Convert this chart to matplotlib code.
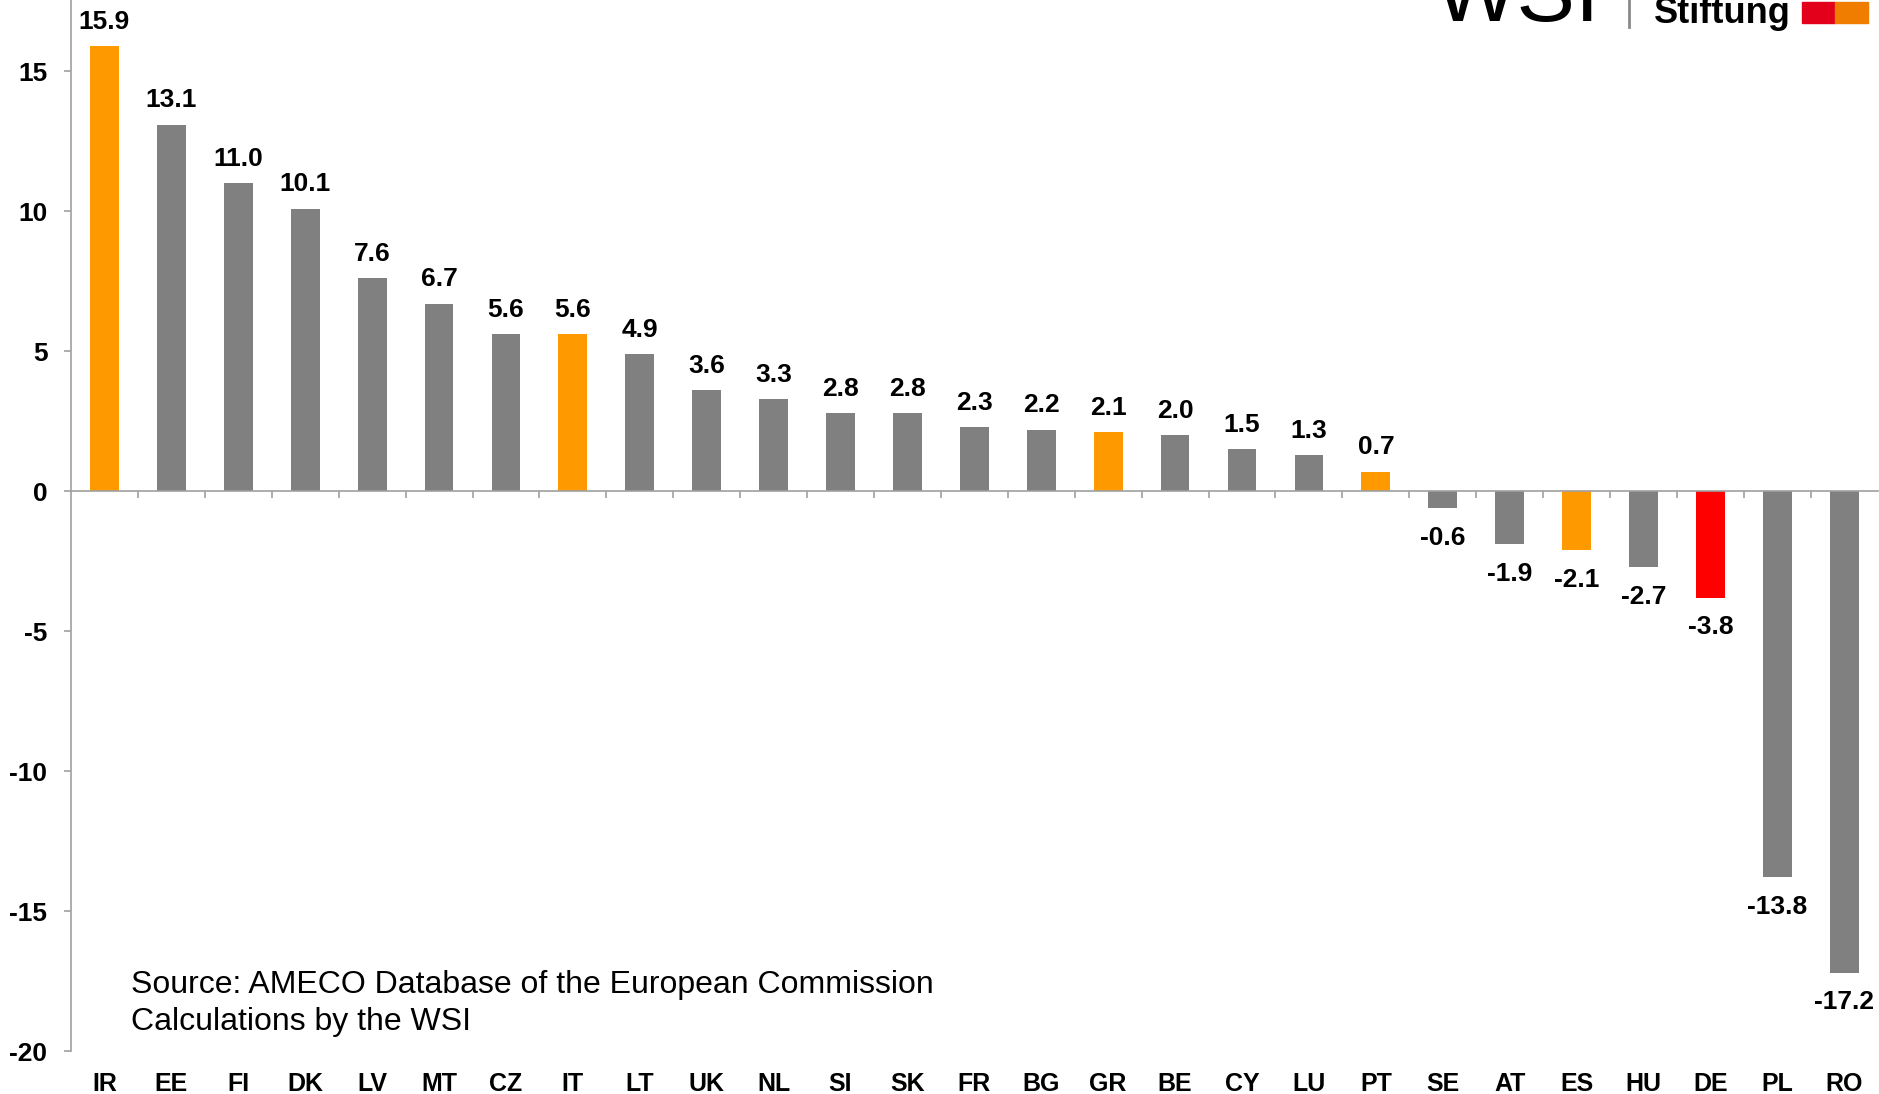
import matplotlib
matplotlib.use("Agg")
import matplotlib.pyplot as plt
from matplotlib.patches import Rectangle
from matplotlib.transforms import blended_transform_factory

plt.rcParams['font.family'] = ['Liberation Sans', 'DejaVu Sans']

# --- Data ---
countries = ["IR", "EE", "FI", "DK", "LV", "MT", "CZ", "IT", "LT", "UK", "NL", "SI", "SK",
             "FR", "BG", "GR", "BE", "CY", "LU", "PT", "SE", "AT", "ES", "HU", "DE", "PL", "RO"]
values = [15.9, 13.1, 11.0, 10.1, 7.6, 6.7, 5.6, 5.6, 4.9, 3.6, 3.3, 2.8, 2.8,
          2.3, 2.2, 2.1, 2.0, 1.5, 1.3, 0.7, -0.6, -1.9, -2.1, -2.7, -3.8, -13.8, -17.2]
crisis = ["IR", "IT", "GR", "PT", "ES"]
highlight = ["DE"]
yticks = [-20, -15, -10, -5, 0, 5, 10, 15]

GREY = "#808080"
ORANGE = "#FF9900"
RED = "#FF0000"
AXIS = "#A0A0A0"

colors = [RED if c in highlight else ORANGE if c in crisis else GREY for c in countries]

fig = plt.figure(figsize=(18.79, 10.94), dpi=100)
ax = fig.add_axes([0.0378, 0.0393, 0.9615, 0.9607])

x = list(range(len(countries)))
ax.bar(x, values, width=0.43, color=colors, zorder=2)

ax.set_xlim(-0.5, len(countries) - 0.5)
ax.set_ylim(-20, 17.55)

# spines
for s in ["top", "right"]:
    ax.spines[s].set_visible(False)
ax.spines["left"].set_color(AXIS)
ax.spines["left"].set_linewidth(1.2)
ax.spines["bottom"].set_position(("data", 0))
ax.spines["bottom"].set_color(AXIS)
ax.spines["bottom"].set_linewidth(1.2)

ax.set_yticks(yticks)
ax.set_yticklabels([str(v) for v in yticks], fontsize=19, fontweight="bold")
ax.tick_params(axis="y", direction="out", length=5, color=AXIS, width=1.2, pad=12)

# category boundary ticks on the zero line, no labels there
ax.set_xticks([i + 0.5 for i in x[:-1]])
ax.set_xticklabels([])
ax.tick_params(axis="x", direction="out", length=5, color=AXIS, width=1.2)

# category labels below the plot
trans = blended_transform_factory(ax.transData, ax.transAxes)
for i, c in zip(x, countries):
    ax.text(i, -0.031, c, transform=trans, ha="center", va="center",
            fontsize=18, fontweight="bold")

# value labels
for i, v in zip(x, values):
    off = 17.5 if v >= 0 else -21.5
    ax.annotate(f"{v:.1f}", (i, v), xytext=(0, off), textcoords="offset points",
                ha="center", va="center", fontsize=19, fontweight="bold")

# source note
ax.text(0.0332, 0.045, "Source: AMECO Database of the European Commission\nCalculations by the WSI",
        transform=ax.transAxes, ha="left", va="center", fontsize=23, linespacing=1.28)

# logo (cut off at the top)
fig.text(1435 / 1879, 1 - 21.5 / 1094, "WSI", fontsize=63, ha="left", va="baseline")
fig.add_artist(plt.Line2D([1629 / 1879, 1629 / 1879], [1 - 27 / 1094, 1.0],
                          transform=fig.transFigure, color="#8A8A8A", lw=2))
fig.text(1654 / 1879, 1 - 23 / 1094, "Stiftung", fontsize=26, fontweight="bold",
         ha="left", va="baseline")
fig.add_artist(Rectangle((1802 / 1879, 1 - 23 / 1094), 33 / 1879, 21 / 1094,
                         transform=fig.transFigure, color="#E2001A"))
fig.add_artist(Rectangle((1835 / 1879, 1 - 23 / 1094), 33 / 1879, 21 / 1094,
                         transform=fig.transFigure, color="#F07D00"))

fig.savefig("out.png", dpi=100)
